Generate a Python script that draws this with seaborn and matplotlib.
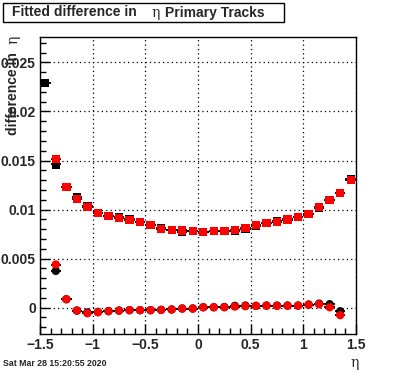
import numpy as np
import pandas as pd
import seaborn as sns
import matplotlib
matplotlib.use("Agg")
import matplotlib.pyplot as plt
from matplotlib.patches import Rectangle
from matplotlib.ticker import MultipleLocator, FixedLocator

# bin centres in eta
eta = [-1.45, -1.35, -1.25, -1.15, -1.05, -0.95, -0.85, -0.75, -0.65, -0.55,
       -0.45, -0.35, -0.25, -0.15, -0.05, 0.05, 0.15, 0.25, 0.35, 0.45,
       0.55, 0.65, 0.75, 0.85, 0.95, 1.05, 1.15, 1.25, 1.35, 1.45]
eta_err = 0.05

# upper curves (squares)
sq_black = [0.0229, 0.0146, 0.0123, 0.01129, 0.01037, 0.00966, 0.00935, 0.00922, 0.00903, 0.0087,
            0.00843, 0.00808, 0.00789, 0.00768, 0.00779, 0.00772, 0.0078, 0.0078, 0.00785, 0.00805,
            0.00833, 0.00863, 0.00884, 0.00905, 0.00921, 0.00955, 0.01013, 0.01098, 0.01169, 0.0131]
sq_red = [np.nan, 0.01513, 0.01231, 0.01108, 0.01027, 0.00966, 0.00935, 0.00915, 0.00894, 0.0087,
          0.00843, 0.00802, 0.00789, 0.00786, 0.00779, 0.00772, 0.0078, 0.0078, 0.00789, 0.00812,
          0.0084, 0.00863, 0.00874, 0.00898, 0.00921, 0.00955, 0.01023, 0.01098, 0.01169, 0.01302]

# lower curves (circles)
circ_black = [np.nan, 0.00374, 0.00085, -0.00031, -0.0005, -0.00045, -0.00036, -0.00031, -0.00027, -0.00027,
              -0.00027, -0.00024, -0.0002, -0.0001, -0.0001, 0.00003, 0.00003, 0.00005, 0.00017, 0.0002,
              0.00017, 0.0002, 0.0002, 0.0002, 0.0002, 0.0003, 0.0004, 0.00034, -0.00038, np.nan]
circ_red = [np.nan, 0.00439, 0.00085, -0.00031, -0.00058, -0.00048, -0.00038, -0.00031, -0.00027, -0.00027,
            -0.00027, -0.00024, -0.0002, -0.0001, -0.0001, 0.00003, 0.00003, 0.00003, 0.0001, 0.00014,
            0.00017, 0.0002, 0.00017, 0.0002, 0.0002, 0.0003, 0.00034, 0.00003, -0.00078, np.nan]

xticks = [-1.5, -1, -0.5, 0, 0.5, 1, 1.5]
xtick_labels = ["\u22121.5", "\u22121", "\u22120.5", "0", "0.5", "1", "1.5"]
yticks = [0, 0.005, 0.01, 0.015, 0.02, 0.025]
ytick_labels = ["0", "0.005", "0.01", "0.015", "0.02", "0.025"]

sns.set_style("ticks")
plt.rcParams["font.family"] = ["Liberation Sans", "DejaVu Sans"]

series = {
    "sq_black": sq_black,
    "circ_black": circ_black,
    "sq_red": sq_red,
    "circ_red": circ_red,
}
frames = []
for name, vals in series.items():
    frames.append(pd.DataFrame({"eta": eta, "value": vals, "series": name}))
df = pd.concat(frames, ignore_index=True).dropna()

fig = plt.figure(figsize=(3.96, 3.72), dpi=100)
ax = fig.add_axes([40 / 396, 38 / 372, 316 / 396, 297 / 372])

for name, vals in series.items():
    ax.errorbar(eta, vals, xerr=eta_err, fmt="none", ecolor="black", elinewidth=1.3, zorder=2)

sns.scatterplot(data=df, x="eta", y="value", hue="series", style="series",
                palette={"sq_black": "black", "circ_black": "black", "sq_red": "#ff0000", "circ_red": "#ff0000"},
                markers={"sq_black": "s", "circ_black": "o", "sq_red": "s", "circ_red": "o"},
                s=36, edgecolor="none", linewidth=0, legend=False, ax=ax, zorder=3)

ax.set_xlim(-1.5, 1.5)
ax.set_ylim(-0.0027, 0.0276)
ax.xaxis.set_major_locator(FixedLocator(xticks))
ax.set_xticklabels(xtick_labels)
ax.yaxis.set_major_locator(FixedLocator(yticks))
ax.set_yticklabels(ytick_labels)
ax.xaxis.set_minor_locator(MultipleLocator(0.1))
ax.yaxis.set_minor_locator(MultipleLocator(0.001))
ax.tick_params(which="both", direction="in", top=False, right=False, width=1, color="black")
ax.tick_params(which="major", length=7, labelsize=10, pad=3)
ax.tick_params(which="minor", length=4)
for lab in ax.get_xticklabels() + ax.get_yticklabels():
    lab.set_fontweight("bold")
ax.grid(True, which="major", linestyle=(0, (1, 2.5)), color="black", linewidth=0.9)
for sp in ax.spines.values():
    sp.set_visible(True)
    sp.set_linewidth(1)
    sp.set_color("black")
ax.set_xlabel("")
ax.set_ylabel("")

# title box
fig.patches.append(Rectangle((3 / 396, 1 - 22 / 372), 281 / 396, 19 / 372,
                             transform=fig.transFigure, facecolor="white",
                             edgecolor="black", linewidth=1))
fig.text(12 / 396, 1 - 12.5 / 372, "Fitted difference in", fontsize=10, fontweight="bold", va="center")
fig.text(151 / 396, 1 - 12.5 / 372, "\u03b7", fontsize=10, family=["DejaVu Serif"], va="center")
fig.text(165 / 396, 1 - 12.5 / 372, "Primary Tracks", fontsize=10, fontweight="bold", va="center")

# axis titles (y title reads upwards, ending at the top of the frame)
fig.text(13 / 396, 1 - 40 / 372, "\u03b7", fontsize=10, family=["DejaVu Serif"],
         rotation=90, ha="center", va="center")
fig.text(13 / 396, 1 - 52 / 372, "difference in", fontsize=10, fontweight="bold",
         rotation=90, ha="right", va="center", rotation_mode="anchor")
fig.text(350 / 396, 1 - 363 / 372, "\u03b7", fontsize=10, family=["DejaVu Serif"], va="center")
fig.text(3 / 396, 1 - 364 / 372, "Sat Mar 28 15:20:55 2020", fontsize=6.3, fontweight="bold", va="center")

fig.savefig("out.png", dpi=100)
